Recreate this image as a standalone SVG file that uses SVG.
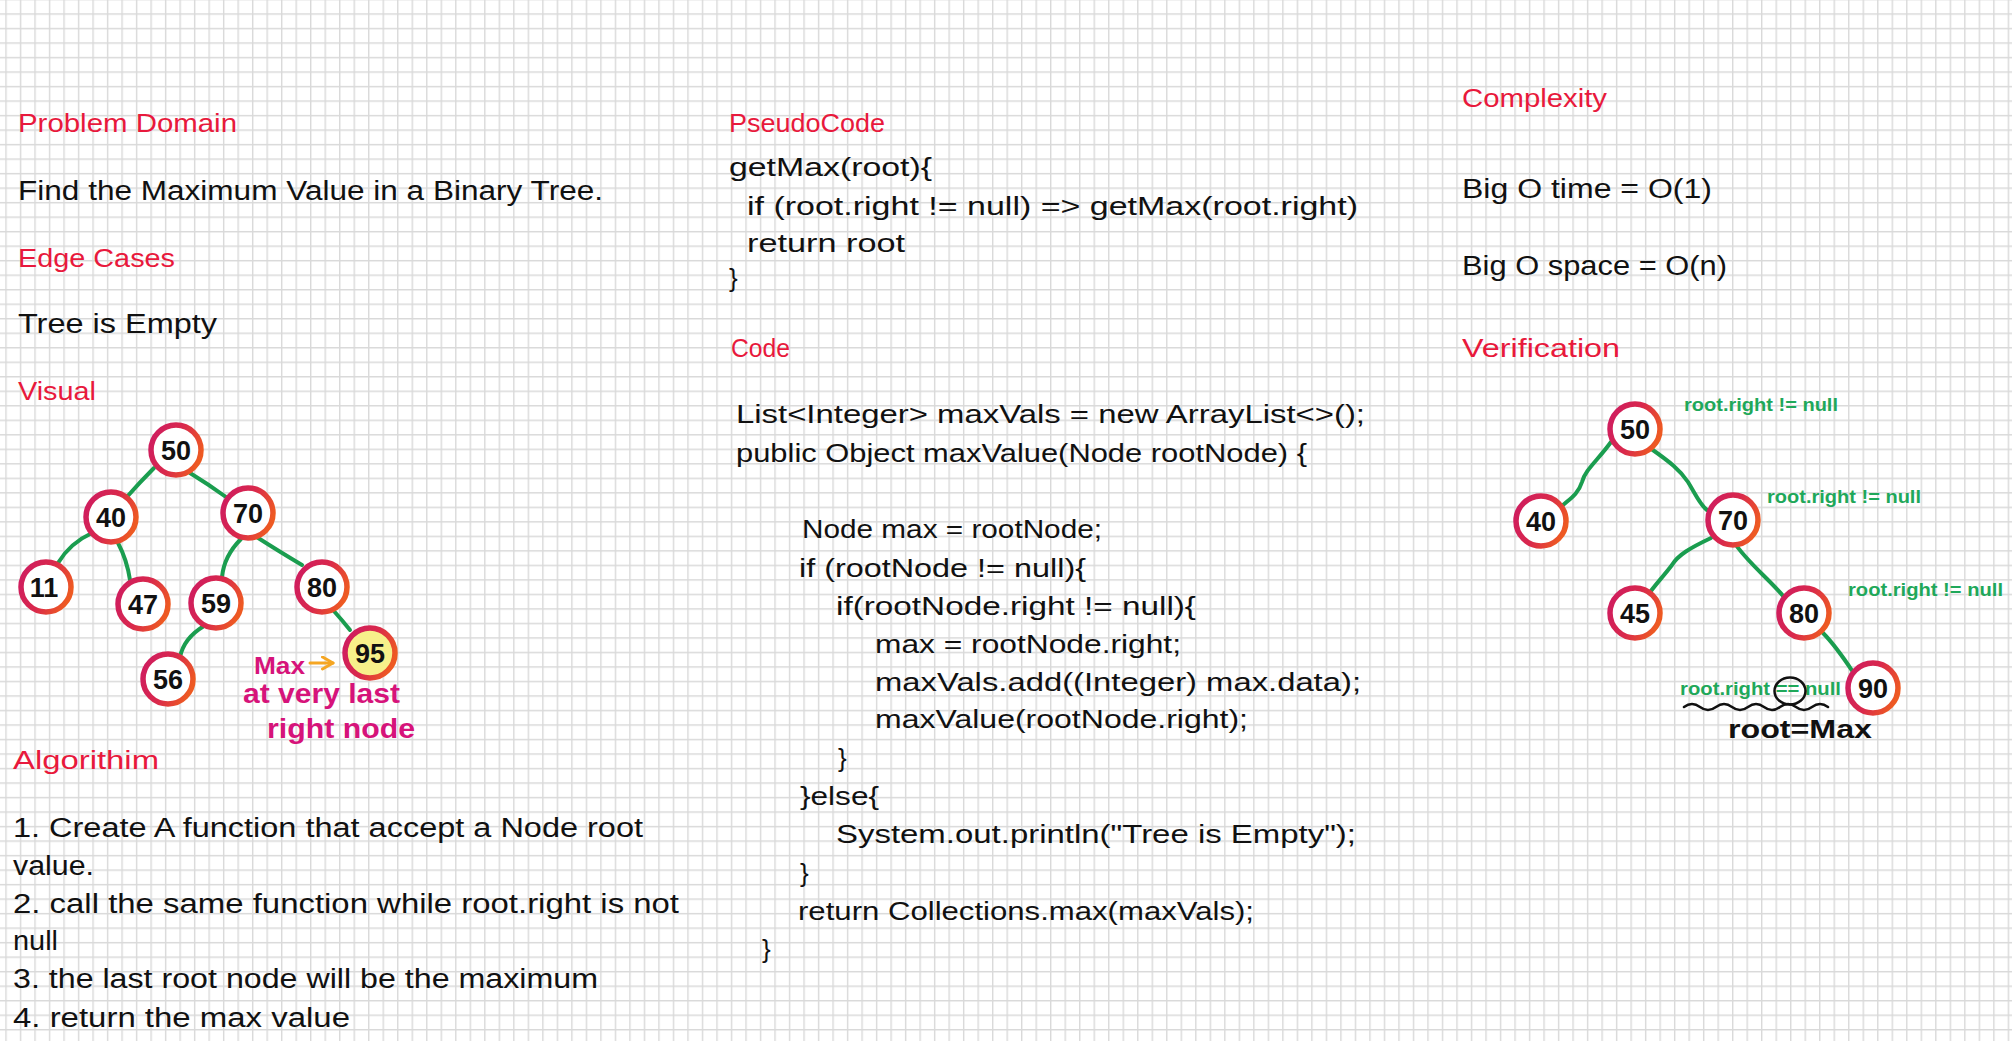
<svg xmlns="http://www.w3.org/2000/svg" width="2012" height="1041" viewBox="0 0 2012 1041">
<defs>
  <pattern id="grid" patternUnits="userSpaceOnUse" x="5.3" y="13.3" width="14.51" height="14.51">
    <path d="M0 0.7H14.51M0.7 0V14.51" stroke="#d9d9d9" stroke-width="1.4" fill="none"/>
  </pattern>
  <linearGradient id="ring" x1="0" y1="0.2" x2="1" y2="0.6">
    <stop offset="0" stop-color="#cf1d5f"/>
    <stop offset="0.5" stop-color="#d9284c"/>
    <stop offset="1" stop-color="#ee5a22"/>
  </linearGradient>
  <marker id="arr" viewBox="0 0 10 10" refX="8" refY="5" markerWidth="5" markerHeight="5" orient="auto">
    <path d="M1 1L8 5L1 9" fill="none" stroke="#f5a623" stroke-width="2" stroke-linecap="round" stroke-linejoin="round"/>
  </marker>
  <style>
    .h{font-family:"Liberation Sans",Arial,sans-serif;font-size:26px;fill:#e8193c}
    .t{font-family:"Liberation Sans",Arial,sans-serif;font-size:27px;fill:#111}
    .c{font-family:"Liberation Sans",Arial,sans-serif;font-size:26px;fill:#111}
    .g{font-family:"Liberation Sans",Arial,sans-serif;font-size:19px;fill:#1fa85a;font-weight:bold}
    .m{font-family:"Liberation Sans",Arial,sans-serif;font-size:28px;fill:#d6137a;font-weight:bold}
    .k{font-family:"Liberation Sans",Arial,sans-serif;font-size:26px;fill:#111;font-weight:bold}
    .ring{fill:#fff;stroke:url(#ring);stroke-width:5.5}
    .num{font-family:"Liberation Sans",Arial,sans-serif;font-size:27px;font-weight:bold;fill:#111;text-anchor:middle}
    .edge{fill:none;stroke:#1a9d4f;stroke-width:4;stroke-linecap:round}
  </style>
</defs>
<rect width="2012" height="1041" fill="#fff"/>
<rect width="2012" height="1041" fill="url(#grid)"/>

<!-- Left column -->
<text class="h" x="18" y="132" textLength="219" lengthAdjust="spacingAndGlyphs">Problem Domain</text>
<text class="t" x="18" y="200" textLength="585" lengthAdjust="spacingAndGlyphs">Find the Maximum Value in a Binary Tree.</text>
<text class="h" x="18" y="267" textLength="157" lengthAdjust="spacingAndGlyphs">Edge Cases</text>
<text class="t" x="18" y="333" textLength="199" lengthAdjust="spacingAndGlyphs">Tree is Empty</text>
<text class="h" x="18" y="400" textLength="78" lengthAdjust="spacingAndGlyphs">Visual</text>

<g id="connectors">
  <path class="edge" d="M154,468 Q140,482 125,499"/>
  <path class="edge" d="M190,473 Q208,484 226,497"/>
  <path class="edge" d="M92,533 Q70,543 58,563"/>
  <path class="edge" d="M118,543 Q127,560 130,580"/>
  <path class="edge" d="M241,539 Q224,556 222,577"/>
  <path class="edge" d="M255,536 Q280,552 302,565"/>
  <path class="edge" d="M333,610 Q342,620 350,630"/>
  <path class="edge" d="M204,626 Q184,638 180,657"/>
  <path class="edge" d="M1611,442 C1598,460 1585,470 1582,482 C1578,495 1568,500 1561,507"/>
  <path class="edge" d="M1650,448 C1670,462 1680,470 1688,482 C1696,495 1700,505 1707,510"/>
  <path class="edge" d="M1711,538 C1690,548 1678,555 1672,565 C1662,578 1655,585 1648,595"/>
  <path class="edge" d="M1734,542 C1745,560 1770,580 1784,597"/>
  <path class="edge" d="M1823,633 C1835,645 1845,660 1853,672"/>
</g>

<g id="n50"><circle class="ring" cx="176" cy="450" r="25"/><text class="num" x="176" y="460">50</text></g>
<g id="n40"><circle class="ring" cx="111" cy="517" r="25"/><text class="num" x="111" y="527">40</text></g>
<g id="n70"><circle class="ring" cx="248" cy="513" r="25"/><text class="num" x="248" y="523">70</text></g>
<g id="n11"><circle class="ring" cx="46" cy="587" r="25"/><text class="num" x="44" y="597">11</text></g>
<g id="n47"><circle class="ring" cx="143" cy="604" r="25"/><text class="num" x="143" y="614">47</text></g>
<g id="n59"><circle class="ring" cx="216" cy="603" r="25"/><text class="num" x="216" y="613">59</text></g>
<g id="n80"><circle class="ring" cx="322" cy="587" r="25"/><text class="num" x="322" y="597">80</text></g>
<g id="n95"><circle class="ring" cx="370" cy="653" r="25" style="fill:#f7f08a"/><text class="num" x="370" y="663">95</text></g>
<g id="n56"><circle class="ring" cx="168" cy="679" r="25"/><text class="num" x="168" y="689">56</text></g>

<g id="max-note">
  <text class="m" x="254" y="674" textLength="51" lengthAdjust="spacingAndGlyphs" style="font-size:24px">Max</text>
  <path d="M310,663 H333" fill="none" stroke="#f5a623" stroke-width="3" stroke-linecap="round" marker-end="url(#arr)"/>
  <text class="m" x="243" y="703" textLength="157" lengthAdjust="spacingAndGlyphs">at very last</text>
  <text class="m" x="267" y="738" textLength="148" lengthAdjust="spacingAndGlyphs">right node</text>
</g>

<text class="h" x="13" y="769" textLength="146" lengthAdjust="spacingAndGlyphs">Algorithim</text>
<text class="t" x="13" y="837" textLength="630" lengthAdjust="spacingAndGlyphs">1. Create A function that accept a Node root</text>
<text class="t" x="13" y="875" textLength="81" lengthAdjust="spacingAndGlyphs">value.</text>
<text class="t" x="13" y="913" textLength="666" lengthAdjust="spacingAndGlyphs">2. call the same function while root.right is not</text>
<text class="t" x="13" y="950" textLength="45" lengthAdjust="spacingAndGlyphs">null</text>
<text class="t" x="13" y="988" textLength="585" lengthAdjust="spacingAndGlyphs">3. the last root node will be the maximum</text>
<text class="t" x="13" y="1027" textLength="337" lengthAdjust="spacingAndGlyphs">4. return the max value</text>

<!-- Middle column -->
<text class="h" x="729" y="132" textLength="156" lengthAdjust="spacingAndGlyphs">PseudoCode</text>
<text class="c" x="729" y="176" textLength="203" lengthAdjust="spacingAndGlyphs">getMax(root){</text>
<text class="c" x="747" y="215" textLength="611" lengthAdjust="spacingAndGlyphs">if (root.right != null) =&gt; getMax(root.right)</text>
<text class="c" x="747" y="252" textLength="158" lengthAdjust="spacingAndGlyphs">return root</text>
<text class="c" x="729" y="287">}</text>

<text class="h" x="731" y="357" textLength="59" lengthAdjust="spacingAndGlyphs">Code</text>
<text class="c" x="736" y="423" textLength="629" lengthAdjust="spacingAndGlyphs">List&lt;Integer&gt; maxVals = new ArrayList&lt;&gt;();</text>
<text class="c" x="736" y="462" textLength="571" lengthAdjust="spacingAndGlyphs">public Object maxValue(Node rootNode) {</text>
<text class="c" x="802" y="538" textLength="300" lengthAdjust="spacingAndGlyphs">Node max = rootNode;</text>
<text class="c" x="799" y="577" textLength="287" lengthAdjust="spacingAndGlyphs">if (rootNode != null){</text>
<text class="c" x="836" y="615" textLength="360" lengthAdjust="spacingAndGlyphs">if(rootNode.right != null){</text>
<text class="c" x="875" y="653" textLength="306" lengthAdjust="spacingAndGlyphs">max = rootNode.right;</text>
<text class="c" x="875" y="691" textLength="486" lengthAdjust="spacingAndGlyphs">maxVals.add((Integer) max.data);</text>
<text class="c" x="875" y="728" textLength="373" lengthAdjust="spacingAndGlyphs">maxValue(rootNode.right);</text>
<text class="c" x="838" y="767">}</text>
<text class="c" x="800" y="805" textLength="79" lengthAdjust="spacingAndGlyphs">}else{</text>
<text class="c" x="836" y="843" textLength="520" lengthAdjust="spacingAndGlyphs">System.out.println("Tree is Empty");</text>
<text class="c" x="800" y="882">}</text>
<text class="c" x="798" y="920" textLength="456" lengthAdjust="spacingAndGlyphs">return Collections.max(maxVals);</text>
<text class="c" x="762" y="958">}</text>

<!-- Right column -->
<text class="h" x="1462" y="107" textLength="145" lengthAdjust="spacingAndGlyphs">Complexity</text>
<text class="t" x="1462" y="198" textLength="250" lengthAdjust="spacingAndGlyphs">Big O time = O(1)</text>
<text class="t" x="1462" y="275" textLength="265" lengthAdjust="spacingAndGlyphs">Big O space = O(n)</text>
<text class="h" x="1462" y="357" textLength="158" lengthAdjust="spacingAndGlyphs">Verification</text>

<g id="v50"><circle class="ring" cx="1635" cy="429" r="25"/><text class="num" x="1635" y="439">50</text></g>
<g id="v40"><circle class="ring" cx="1541" cy="521" r="25"/><text class="num" x="1541" y="531">40</text></g>
<g id="v70"><circle class="ring" cx="1733" cy="520" r="25"/><text class="num" x="1733" y="530">70</text></g>
<g id="v45"><circle class="ring" cx="1635" cy="613" r="25"/><text class="num" x="1635" y="623">45</text></g>
<g id="v80"><circle class="ring" cx="1804" cy="613" r="25"/><text class="num" x="1804" y="623">80</text></g>
<g id="v90"><circle class="ring" cx="1873" cy="688" r="25"/><text class="num" x="1873" y="698">90</text></g>

<g id="verify-notes">
  <text class="g" x="1684" y="411" textLength="154" lengthAdjust="spacingAndGlyphs">root.right != null</text>
  <text class="g" x="1767" y="503" textLength="154" lengthAdjust="spacingAndGlyphs">root.right != null</text>
  <text class="g" x="1848" y="596" textLength="155" lengthAdjust="spacingAndGlyphs">root.right != null</text>
  <text class="g" x="1680" y="695" textLength="161" lengthAdjust="spacingAndGlyphs">root.right == null</text>
  <ellipse cx="1790" cy="691" rx="15.5" ry="13.5" fill="none" stroke="#111" stroke-width="2.5"/>
  <path d="M1684,707 q8,-6 16,0 t16,0 t16,0 t16,0 t16,0 t16,0 t16,0 t16,0 t16,0" fill="none" stroke="#111" stroke-width="2.5" stroke-linecap="round"/>
  <text class="k" x="1728" y="738" textLength="144" lengthAdjust="spacingAndGlyphs">root=Max</text>
</g>
</svg>
